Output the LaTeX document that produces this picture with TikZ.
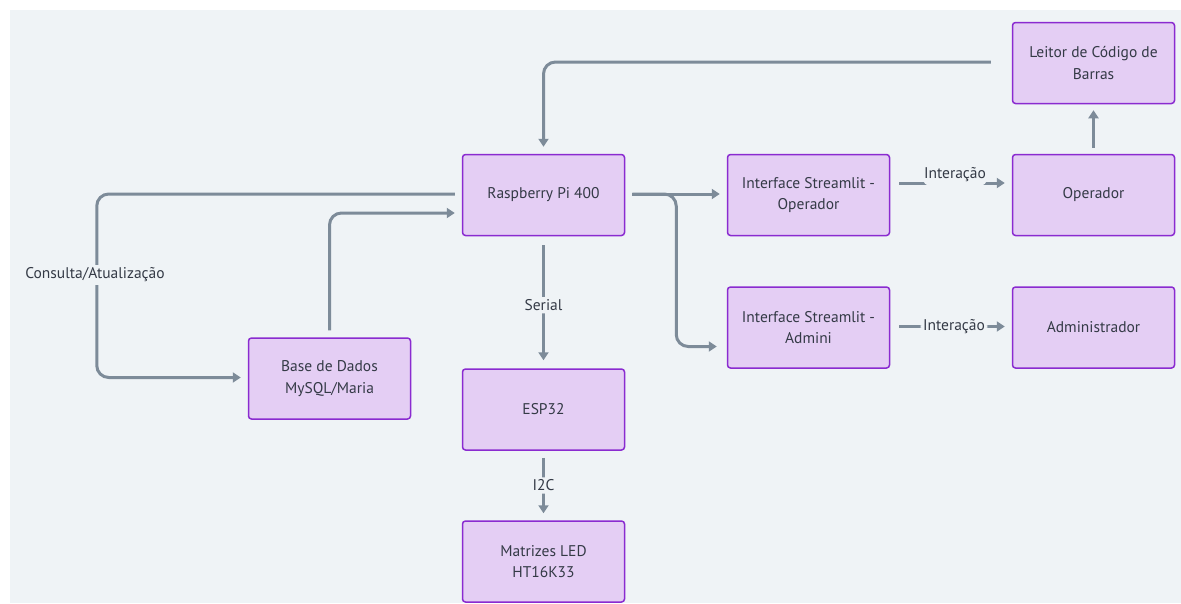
\documentclass[tikz,border=0pt]{standalone}
\usepackage{fontspec}
\setmainfont{PT Sans}
\usetikzlibrary{arrows.meta}

\definecolor{bgcol}{HTML}{EFF3F6}
\definecolor{boxfill}{HTML}{E4CEF4}
\definecolor{boxline}{HTML}{8A2BD0}
\definecolor{linecol}{HTML}{7D8B99}
\definecolor{txtcol}{HTML}{343A46}

\begin{document}
\begin{tikzpicture}[x=1pt, y=-1pt,
    every node/.style={text=txtcol, font=\fontsize{15.5}{21.5}\selectfont},
    box/.style={draw=boxline, fill=boxfill, line width=1.5pt, rounded corners=3pt,
        minimum width=162pt, minimum height=81pt, align=center},
    conn/.style={draw=linecol, line width=3pt, rounded corners=12pt,
        -{Triangle[length=8pt, width=10pt]}},
    lbl/.style={fill=bgcol, inner sep=2.5pt}]
    \useasboundingbox (0,0) rectangle (1181,603);
    \fill[bgcol] (10,10) rectangle (1181,603);

    % --- blocks ---
    \node[box] (leitor) at (1093.5,63)    {Leitor de Código de\\Barras};
    \node[box] (rpi)    at (543.5,195)    {Raspberry Pi 400};
    \node[box] (ifop)   at (808.5,195)    {Interface Streamlit -\\Operador};
    \node[box] (oper)   at (1093.5,195)   {Operador};
    \node[box] (ifadm)  at (808.5,327.5)  {Interface Streamlit -\\Admini};
    \node[box] (admin)  at (1093.5,327.5) {Administrador};
    \node[box] (base)   at (329.5,378.5)  {Base de Dados\\MySQL/Maria};
    \node[box] (esp)    at (543.5,409.5)  {ESP32};
    \node[box] (led)    at (543.5,561.5)  {Matrizes LED\\HT16K33};

    % --- Pi and database ---
    \draw[conn, shorten >=7pt] ([xshift=-21pt, yshift=1pt]leitor.west) -| (rpi.north);
    \draw[conn, shorten >=7pt] ([xshift=-7pt, yshift=1pt]rpi.west) -- ++(-358,0) |- ([yshift=1pt]base.west);
    \node[lbl] (consulta) at (95,275) {Consulta/Atualização};
    \draw[conn] ([yshift=7pt]base.north) |- ([xshift=-7pt, yshift=-18pt]rpi.west);

    % --- Pi to ESP32 and LEDs ---
    \draw[conn, shorten <=9pt, shorten >=8pt] (rpi.south) -- (esp.north)
        node[midway, lbl, yshift=-3pt] (serial) {Serial};
    \draw[conn, shorten <=7pt, shorten >=7pt] (esp.south) -- (led.north)
        node[midway, lbl] (i2c) {I2C};

    % --- interfaces ---
    \draw[conn, shorten <=7pt, shorten >=7pt] ([yshift=1pt]rpi.east) -- ([yshift=1pt]ifop.west);
    \draw[conn] ([xshift=7pt, yshift=1pt]rpi.east) -- ++(44,0) |- ([xshift=-10pt, yshift=-19pt]ifadm.west);
    \draw[conn] ([xshift=9pt, yshift=12pt]ifop.east) -- ([xshift=-7pt, yshift=12pt]oper.west)
        node[midway, lbl, inner ysep=5pt, xshift=3pt, yshift=8pt] (inter1) {Interação};
    \draw[conn, shorten <=9pt, shorten >=7pt] ([yshift=1pt]ifadm.east) -- ([yshift=1pt]admin.west)
        node[midway, lbl, xshift=3pt] (inter2) {Interação};
    \draw[conn, shorten <=6pt, shorten >=6pt] (oper.north) -- (leitor.south);
\end{tikzpicture}
\end{document}
